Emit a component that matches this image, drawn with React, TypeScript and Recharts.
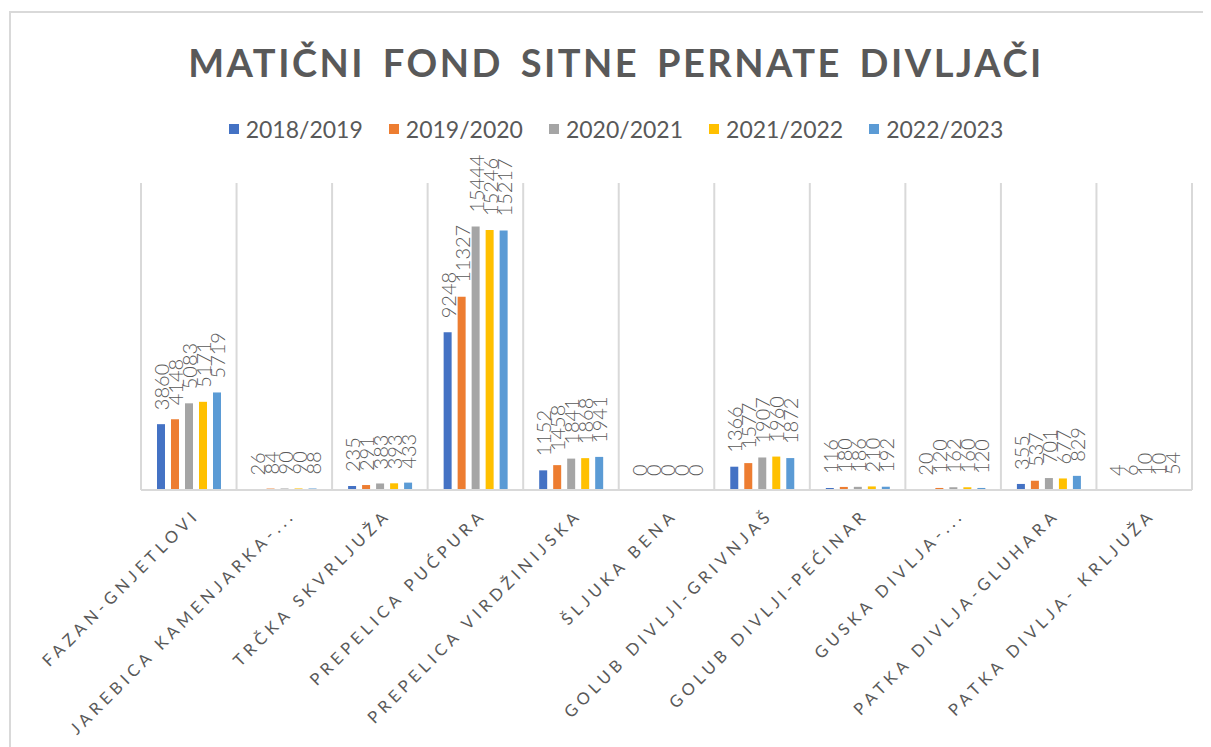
import React from "react";
import {
  BarChart,
  Bar,
  XAxis,
  YAxis,
  CartesianGrid,
  Legend,
  LabelList,
} from "recharts";

const categories = [
  "FAZAN-GNJETLOVI",
  "JAREBICA KAMENJARKA-...",
  "TRČKA SKVRLJUŽA",
  "PREPELICA PUĆPURA",
  "PREPELICA VIRDŽINIJSKA",
  "ŠLJUKA BENA",
  "GOLUB DIVLJI-GRIVNJAŠ",
  "GOLUB DIVLJI-PEĆINAR",
  "GUSKA DIVLJA-...",
  "PATKA DIVLJA-GLUHARA",
  "PATKA DIVLJA- KRLJUŽA",
];

const seasons = ["2018/2019", "2019/2020", "2020/2021", "2021/2022", "2022/2023"];

const s2018 = [3860, 26, 235, 9248, 1152, 0, 1366, 116, 20, 355, 4];
const s2019 = [4148, 84, 291, 11327, 1458, 0, 1577, 180, 120, 537, 6];
const s2020 = [5083, 90, 383, 15444, 1841, 0, 1907, 186, 162, 701, 10];
const s2021 = [5171, 90, 393, 15246, 1868, 0, 1960, 210, 160, 677, 10];
const s2022 = [5719, 88, 433, 15217, 1941, 0, 1872, 192, 120, 829, 54];

const colors = ["#4472C4", "#ED7D31", "#A5A5A5", "#FFC000", "#5B9BD5"];

const seriesValues = [s2018, s2019, s2020, s2021, s2022];

const data = categories.map((name, i) => {
  const row: Record<string, string | number> = { name };
  seasons.forEach((s, j) => {
    row[s] = seriesValues[j][i];
  });
  return row;
});

const FONT = "Lato, 'Open Sans', sans-serif";
const GREY = "#595959";

const BarLabel = (props: any) => {
  const { x, y, width, height, value } = props;
  const cx = x + width / 2;
  // top of the bar (height may be tiny for zero values)
  const top = Math.min(y, y + height) - 14;
  return (
    <text
      transform={`translate(${cx},${top}) rotate(-90)`}
      textAnchor="start"
      dominantBaseline="central"
      fontSize={20}
      fontWeight={300}
      fontFamily={FONT}
      fill={GREY}
    >
      {String(value)}
    </text>
  );
};

const CategoryTick = (props: any) => {
  const { x, y, payload } = props;
  const ax = x + 12;
  const ay = y + 18;
  return (
    <text
      x={ax}
      y={ay}
      transform={`rotate(-45, ${ax}, ${ay})`}
      textAnchor="end"
      fontSize={16.5}
      letterSpacing={4.5}
      fontFamily={FONT}
      fill={GREY}
    >
      {payload.value}
    </text>
  );
};

const LegendContent = (props: any) => {
  const { payload } = props;
  return (
    <div
      style={{
        display: "flex",
        justifyContent: "center",
        fontFamily: FONT,
        fontSize: 23,
        color: GREY,
      }}
    >
      {(payload || []).map((item: any) => (
        <div
          key={item.value}
          style={{ display: "flex", alignItems: "center", margin: "0 13px" }}
        >
          <span
            style={{
              display: "inline-block",
              width: 10,
              height: 10,
              background: item.color,
              marginRight: 7,
            }}
          />
          <span>{item.value}</span>
        </div>
      ))}
    </div>
  );
};

const App: React.FC = () => {
  return (
    <div
      style={{
        position: "relative",
        marginTop: 3,
        marginLeft: 1,
        width: 1200,
        height: 734,
        borderTop: "2px solid #d9d9d9",
        borderLeft: "2px solid #d9d9d9",
        background: "#fff",
      }}
    >
      <div
        style={{
          position: "absolute",
          top: 26,
          left: 0,
          width: 1210,
          textAlign: "center",
          fontFamily: FONT,
          fontWeight: 700,
          fontSize: 38,
          letterSpacing: 2.5,
          wordSpacing: 6,
          color: GREY,
        }}
      >
        MATIČNI FOND SITNE PERNATE DIVLJAČI
      </div>
      <BarChart
        width={1200}
        height={734}
        data={data}
        margin={{ top: 170, right: 19, left: 130, bottom: 57 }}
        barSize={8}
        barGap={6}
      >
        <CartesianGrid
          horizontal={false}
          stroke="#d9d9d9"
          strokeWidth={2}
          verticalCoordinatesGenerator={({ offset }: any) =>
            Array.from({ length: categories.length + 1 }, (_, i) =>
              offset.left + (i * offset.width) / categories.length
            )
          }
        />
        <XAxis
          dataKey="name"
          interval={0}
          tickLine={false}
          axisLine={{ stroke: "#d9d9d9", strokeWidth: 2 }}
          tick={<CategoryTick />}
          height={200}
        />
        <YAxis hide domain={[0, 18000]} />
        <Legend
          verticalAlign="middle"
          content={<LegendContent />}
          wrapperStyle={{ top: 102, left: 0, width: 1210 }}
        />
        {seasons.map((s, j) => (
          <Bar
            key={s}
            dataKey={s}
            fill={colors[j]}
            minPointSize={0.1}
            isAnimationActive={false}
          >
            <LabelList dataKey={s} content={<BarLabel />} />
          </Bar>
        ))}
      </BarChart>
    </div>
  );
};

export default App;
